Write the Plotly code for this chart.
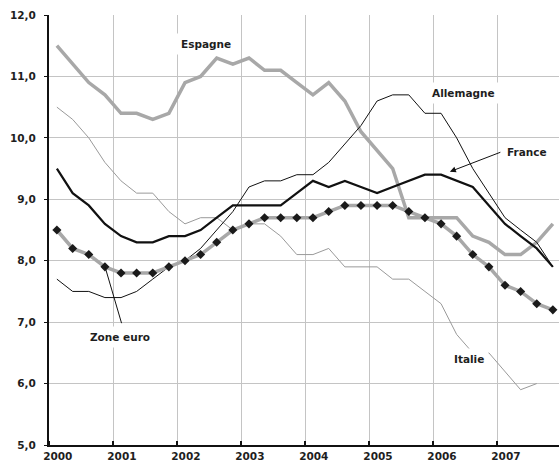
import plotly.graph_objects as go

years = list(range(2000, 2008))
quarter_mid = ["02-15", "05-15", "08-15", "11-15"]
quarters = [f"{y}-{m}" for y in years for m in quarter_mid]
year_labels = [str(y) for y in years]

espagne = [11.5, 11.2, 10.9, 10.7, 10.4, 10.4, 10.3, 10.4, 10.9, 11.0,
           11.3, 11.2, 11.3, 11.1, 11.1, 10.9, 10.7, 10.9, 10.6, 10.1,
           9.8, 9.5, 8.7, 8.7, 8.7, 8.7, 8.4, 8.3, 8.1, 8.1,
           8.3, 8.6]
allemagne = [7.7, 7.5, 7.5, 7.4, 7.4, 7.5, 7.7, 7.9, 8.0, 8.2,
             8.5, 8.8, 9.2, 9.3, 9.3, 9.4, 9.4, 9.6, 9.9, 10.2,
             10.6, 10.7, 10.7, 10.4, 10.4, 10.0, 9.5, 9.1, 8.7, 8.5,
             8.3, 7.9]
france = [9.5, 9.1, 8.9, 8.6, 8.4, 8.3, 8.3, 8.4, 8.4, 8.5,
          8.7, 8.9, 8.9, 8.9, 8.9, 9.1, 9.3, 9.2, 9.3, 9.2,
          9.1, 9.2, 9.3, 9.4, 9.4, 9.3, 9.2, 8.9, 8.6, 8.4,
          8.2, 7.9]
italie = [10.5, 10.3, 10.0, 9.6, 9.3, 9.1, 9.1, 8.8, 8.6, 8.7,
          8.7, 8.5, 8.6, 8.6, 8.4, 8.1, 8.1, 8.2, 7.9, 7.9,
          7.9, 7.7, 7.7, 7.5, 7.3, 6.8, 6.5, 6.5, 6.2, 5.9,
          6.0, None]
zone_euro = [8.5, 8.2, 8.1, 7.9, 7.8, 7.8, 7.8, 7.9, 8.0, 8.1,
             8.3, 8.5, 8.6, 8.7, 8.7, 8.7, 8.7, 8.8, 8.9, 8.9,
             8.9, 8.9, 8.8, 8.7, 8.6, 8.4, 8.1, 7.9, 7.6, 7.5,
             7.3, 7.2]

FONT = "DejaVu Sans"
TXT = "#1e1e1e"

fig = go.Figure()
fig.add_trace(go.Scatter(x=quarters, y=espagne, mode="lines", name="Espagne",
                         line=dict(color="#a8a8a8", width=3.5)))
fig.add_trace(go.Scatter(x=quarters, y=italie, mode="lines", name="Italie",
                         line=dict(color="#9a9a9a", width=1)))
fig.add_trace(go.Scatter(x=quarters, y=allemagne, mode="lines", name="Allemagne",
                         line=dict(color="#111111", width=1)))
fig.add_trace(go.Scatter(x=quarters, y=france, mode="lines", name="France",
                         line=dict(color="#111111", width=2.2)))
fig.add_trace(go.Scatter(x=quarters, y=zone_euro, mode="lines+markers", name="Zone euro",
                         line=dict(color="#a8a8a8", width=3.5),
                         marker=dict(symbol="diamond", size=7, color="#1a1a1a")))

ann_font = dict(family=FONT, size=10.5, color=TXT, weight="bold")
annotations = [
    dict(text="Espagne", x=0.307, y=0.933, bgcolor="white", borderpad=4),
    dict(text="Allemagne", x=0.812, y=0.818, bgcolor="white", borderpad=4),
    dict(text="France", x=0.937, y=0.681, bgcolor="white", borderpad=2),
    dict(text="Italie", x=0.824, y=0.199, bgcolor="white", borderpad=4),
    dict(text="Zone euro", x=0.140, y=0.252, bgcolor="white", borderpad=4),
]
for a in annotations:
    fig.add_annotation(xref="paper", yref="paper", showarrow=False,
                       font=ann_font, xanchor="center", yanchor="middle", **a)
# France arrow
fig.add_annotation(xref="paper", yref="paper", x=0.786, y=0.6356, text="",
                   showarrow=True, ax=52, ay=-20, arrowhead=2, arrowsize=1.2,
                   arrowwidth=1, arrowcolor="#111111")
# Zone euro pointer line
fig.add_annotation(xref="paper", yref="paper", x=0.1098, y=0.4147, text="",
                   showarrow=True, ax=17, ay=58, arrowhead=0,
                   arrowwidth=1, arrowcolor="#111111")

fig.update_layout(
    width=559, height=470,
    margin=dict(l=49, r=0, t=15, b=25),
    paper_bgcolor="white", plot_bgcolor="white",
    showlegend=False,
    separators=", ",
    font=dict(family=FONT, size=10.5, color=TXT),
)
fig.update_xaxes(
    type="date",
    range=["2000-01-01", "2007-12-20"],
    tickvals=[f"{y}-02-20" for y in years],
    ticktext=year_labels,
    ticks="", showgrid=False,
    tickfont=dict(family=FONT, size=10.5, color=TXT, weight="bold"),
    showline=True, linecolor="#111111", linewidth=2,
    minor=dict(tickvals=[f"{y}-01-01" for y in years], showgrid=True,
               gridcolor="#c4c4c4", gridwidth=1, ticks="inside", ticklen=4,
               tickcolor="#111111", tickwidth=1.5),
    zeroline=False,
)
fig.update_yaxes(
    range=[5, 12], dtick=1, tick0=5, tickformat=".1f",
    showgrid=True, gridcolor="#c4c4c4", gridwidth=1,
    showline=True, linecolor="#111111", linewidth=2,
    ticks="outside", ticklen=3, tickcolor="#111111",
    ticklabelstandoff=6,
    tickfont=dict(family=FONT, size=10.5, color=TXT, weight="bold"),
    zeroline=False,
)

fig.write_html(
    "out.html",
    config={"displayModeBar": False},
    post_script="document.body.style.margin='0px';document.body.style.overflow='hidden';",
)
